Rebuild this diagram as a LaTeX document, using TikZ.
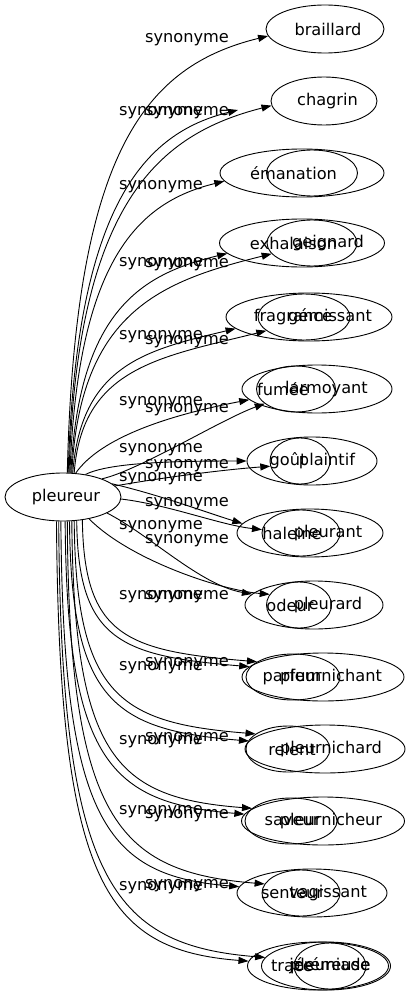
\documentclass[tikz,border=0pt]{standalone}
\usepackage{fontspec}
\setmainfont{DejaVu Sans}
\usetikzlibrary{shapes.geometric,arrows.meta}
\tikzset{
  ell/.style={draw, ellipse, inner sep=0pt, minimum height=48pt, line width=0.9pt},
  inell/.style={ell, minimum height=46pt},
  word/.style={inner sep=0pt, font=\fontsize{16.2}{19}\selectfont},
  lab/.style={inner sep=0pt, font=\fontsize{16.2}{19}\selectfont},
  edge/.style={-{Triangle[length=10pt,width=7pt]}, line width=0.9pt},
}
\begin{document}
\begin{tikzpicture}[x=1pt,y=-1pt]
\useasboundingbox (0,0) rectangle (410,995);
% source
\node[ell, minimum width=116pt] (pl) at (63,497) {};
\node[word] (tpl) at (66,497) {pleureur};
% targets
\node[ell, minimum width=118pt] (n1) at (325,29) {};
\node[ell, minimum width=106pt] (n2) at (324,101) {};
\coordinate (c2a) at (238,110);
\node[ell, minimum width=164pt] (n3o) at (302,173) {};
\node[inell, minimum width=91pt] (n3i) at (312,173) {};
\node[ell, minimum width=165pt] (n4o) at (302,243) {};
\node[inell, minimum width=90pt] (n4i) at (312,243) {};
\node[ell, minimum width=166pt] (n5o) at (309,317) {};
\node[inell, minimum width=92pt] (n5i) at (304,317) {};
\node[ell, minimum width=150pt] (n6o) at (317,389) {};
\node[inell, minimum width=79pt] (n6i) at (296,389) {};
\node[ell, minimum width=130pt] (n7o) at (312,461) {};
\node[inell, minimum width=60pt] (n7i) at (300,461) {};
\node[ell, minimum width=146pt] (n8o) at (310,533) {};
\node[inell, minimum width=78pt] (n8i) at (301,533) {};
\node[ell, minimum width=138pt] (n9o) at (314,605) {};
\node[inell, minimum width=65pt] (n9i) at (299,605) {};
\node[ell, minimum width=162pt] (n10o) at (323,677) {};
\node[inell, minimum width=94pt] (n10i) at (293,677) {};
\node[ell, minimum width=160pt] (n11o) at (325,749) {};
\node[inell, minimum width=84pt] (n11i) at (288,749) {};
\node[ell, minimum width=163pt] (n12o) at (323,821) {};
\node[inell, minimum width=92pt] (n12i) at (291,821) {};
\node[ell, minimum width=150pt] (n13o) at (312,893) {};
\node[inell, minimum width=78pt] (n13i) at (301,893) {};
\node[ell, minimum width=141pt] (n14a) at (318,966) {};
\node[ell, minimum width=129pt] (n14b) at (326,966) {};
\node[inell, minimum width=72pt] (n14c) at (330,966) {};
% words
\node[word] (w1) at (328,29) {braillard};
\node[word] (w2) at (327.5,101) {chagrin};
\node[word] (w3) at (293.5,173) {émanation};
\node[word] (w4a) at (293.5,243) {exhalaison};
\node[word] (w4b) at (328,243) {geignard};
\node[word] (w5a) at (293,317) {fragrance};
\node[word] (w5b) at (330,317) {gémissant};
\node[word] (w6a) at (283,389) {fumée};
\node[word] (w6b) at (326.5,389) {larmoyant};
\node[word] (w7a) at (288,461) {goût};
\node[word] (w7b) at (327,461) {plaintif};
\node[word] (w8a) at (292,533) {haleine};
\node[word] (w8b) at (328,533) {pleurant};
\node[word] (w9a) at (290,605) {odeur};
\node[word] (w9b) at (328,605) {pleurard};
\node[word] (w10a) at (292,677) {parfum};
\node[word] (w10b) at (331,677) {pleurnichant};
\node[word] (w11a) at (292,749) {relent};
\node[word] (w11b) at (331,749) {pleurnichard};
\node[word] (w12a) at (292,821) {saveur};
\node[word] (w12b) at (331,821) {pleurnicheur};
\node[word] (w13a) at (292,893) {senteur};
\node[word] (w13b) at (328,893) {vagissant};
\node[word] (w14a) at (292,966) {trace};
\node[word] (w14b) at (330,966) {pleureuse};
\node[word] (w14c) at (330,966) {jérémiade};
% edges
\draw[edge] (pl.80) .. controls (75,150) and (146,66) .. (n1.187);
\draw[edge] (pl.78) .. controls (76,204) and (145,133) .. (c2a);
\draw[edge] (pl.76) .. controls (77,201) and (160,134) .. (n2.185);
\draw[edge] (pl.74) .. controls (78,257) and (140,202) .. (n3o.186);
\draw[edge] (pl.72) .. controls (79,310) and (142,274) .. (n4o.188);
\draw[edge] (pl.70) .. controls (80,311) and (162,281) .. (n4i.195);
\draw[edge] (pl.68) .. controls (81,365) and (146,350) .. (n5o.189);
\draw[edge] (pl.65) .. controls (82,367) and (161,357) .. (n5i.200);
\draw[edge] (pl.62) .. controls (101,437) and (170,415) .. (n6o.189);
\draw[edge] (pl.25) .. controls (140,470) and (220,420) .. (n6i.205);
\draw[edge] (pl.45) .. controls (110,462) and (180,461) .. (n7o.180);
\draw[edge] (pl.12) .. controls (160,478) and (220,470) .. (n7i.190);
\draw[edge] (pl.15) .. controls (160,495) and (205,512) .. (n8o.172);
\draw[edge] (pl.358) .. controls (170,505) and (220,525) .. (n8i.175);
\draw[edge] (pl.340) .. controls (150,535) and (200,585) .. (n9o.170);
\draw[edge] (pl.320) .. controls (130,560) and (220,590) .. (n9i.160);
\draw[edge] (pl.300) .. controls (78,640) and (120,656) .. (n10o.172);
\draw[edge] (pl.310) .. controls (84,636) and (126,651) .. (n10i.157);
\draw[edge] (pl.285) .. controls (71,701) and (114,730) .. (n11o.174);
\draw[edge] (pl.295) .. controls (76,696) and (120,723) .. (n11i.155);
\draw[edge] (pl.275) .. controls (67,761) and (110,803) .. (n12o.175);
\draw[edge] (pl.290) .. controls (74,757) and (116,798) .. (n12i.162);
\draw[edge] (pl.265) .. controls (63,821) and (106,876) .. (n13o.175);
\draw[edge] (pl.280) .. controls (69,819) and (117,872) .. (n13i.166);
\draw[edge] (pl.255) .. controls (59,882) and (105,950) .. (n14a.176);
\draw[edge] (pl.260) .. controls (61,879) and (111,945) .. (n14b.172);
% labels
\node[lab] (l1b) at (187,40) {synonyme};
\node[lab] (l2a) at (161,113) {synonyme};
\node[lab] (l2b) at (187,113) {synonyme};
\node[lab] (l3a) at (161,187) {synonyme};
\node[lab] (l4a) at (161,264) {synonyme};
\node[lab] (l4b) at (187,265) {synonyme};
\node[lab] (l5a) at (161,337) {synonyme};
\node[lab] (l5b) at (187,342) {synonyme};
\node[lab] (l6a) at (161,403) {synonyme};
\node[lab] (l6b) at (187,410) {synonyme};
\node[lab] (l7a) at (161,450) {synonyme};
\node[lab] (l7b) at (187,466) {synonyme};
\node[lab] (l8a) at (161,479) {synonyme};
\node[lab] (l8b) at (187,504) {synonyme};
\node[lab] (l9a) at (161,527) {synonyme};
\node[lab] (l9b) at (187,541) {synonyme};
\node[lab] (l10a) at (161,597) {synonyme};
\node[lab] (l10b) at (187,597) {synonyme};
\node[lab] (l11a) at (161,668) {synonyme};
\node[lab] (l11b) at (187,664) {synonyme};
\node[lab] (l12a) at (161,742) {synonyme};
\node[lab] (l12b) at (187,739) {synonyme};
\node[lab] (l13a) at (161,812) {synonyme};
\node[lab] (l13b) at (187,816) {synonyme};
\node[lab] (l14a) at (161,888) {synonyme};
\node[lab] (l14b) at (187,886) {synonyme};
\end{tikzpicture}
\end{document}
